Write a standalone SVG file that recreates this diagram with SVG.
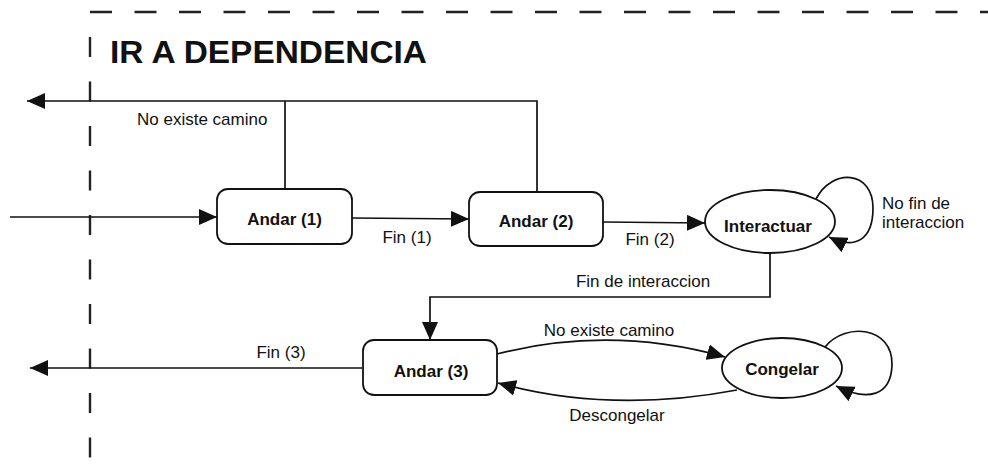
<svg xmlns="http://www.w3.org/2000/svg" width="988" height="470" viewBox="0 0 988 470">
<style>
.ln{fill:none;stroke:#111;stroke-width:1.7}
.box{fill:#fff;stroke:#111;stroke-width:1.8}
.dash{fill:none;stroke:#222;stroke-width:2.4}
.b{font-family:"Liberation Sans",Arial,sans-serif;font-weight:bold;font-size:17px;fill:#111;text-anchor:middle}
.r{font-family:"Liberation Sans",Arial,sans-serif;font-size:17px;fill:#111}
.t{font-family:"Liberation Sans",Arial,sans-serif;font-weight:bold;font-size:31px;fill:#111}
</style>
<defs>
<marker id="ah" markerUnits="userSpaceOnUse" markerWidth="18" markerHeight="16" refX="18" refY="8" orient="auto">
<path d="M0,0 L18,8 L0,16 z" fill="#111"/>
</marker>
</defs>
<rect width="988" height="470" fill="#fff"/>
<g id="frame">
<line class="dash" x1="90" y1="12" x2="988" y2="12" stroke-dasharray="22 22.5"/>
<line class="dash" x1="90" y1="37" x2="90" y2="460" stroke-dasharray="20 24.5"/>
<text class="t" x="110" y="63" textLength="317" lengthAdjust="spacingAndGlyphs">IR A DEPENDENCIA</text>
</g>
<g id="connectors">
<polyline class="ln" points="537,192 537,101 27,101" marker-end="url(#ah)"/>
<line class="ln" x1="285" y1="101" x2="285" y2="189"/>
<text class="r" x="137" y="125">No existe camino</text>
<line class="ln" x1="10" y1="217" x2="217" y2="217" marker-end="url(#ah)"/>
<line class="ln" x1="352" y1="218" x2="469" y2="219" marker-end="url(#ah)"/>
<text class="r" x="407" y="243" text-anchor="middle">Fin (1)</text>
<line class="ln" x1="603" y1="222" x2="705" y2="223" marker-end="url(#ah)"/>
<text class="r" x="650" y="245" text-anchor="middle">Fin (2)</text>
<path class="ln" d="M816 199 C832 168, 873 170, 873 208 C873 240, 855 250, 829 237" marker-end="url(#ah)"/>
<text class="r" x="882" y="209">No fin de</text>
<text class="r" x="882" y="228">interaccion</text>
<polyline class="ln" points="770,253 770,297 430,297 430,340" marker-end="url(#ah)"/>
<text class="r" x="643" y="287" text-anchor="middle">Fin de interaccion</text>
<line class="ln" x1="363" y1="368" x2="30" y2="368" marker-end="url(#ah)"/>
<text class="r" x="281" y="358" text-anchor="middle">Fin (3)</text>
<path class="ln" d="M497 354 Q610 325 725 357" marker-end="url(#ah)"/>
<text class="r" x="609" y="336" text-anchor="middle">No existe camino</text>
<path class="ln" d="M737 390 Q610 414 498 383" marker-end="url(#ah)"/>
<text class="r" x="617" y="421" text-anchor="middle">Descongelar</text>
<path class="ln" d="M825 347 C845 322, 893 326, 892 365 C891 396, 868 402, 836 386" marker-end="url(#ah)"/>
</g>
<g id="andar1">
<rect class="box" x="217" y="189" width="135" height="55" rx="11"/>
<text class="b" x="284.5" y="225">Andar (1)</text>
</g>
<g id="andar2">
<rect class="box" x="469" y="192" width="134" height="54" rx="11"/>
<text class="b" x="536" y="227">Andar (2)</text>
</g>
<g id="interactuar">
<ellipse class="box" cx="770" cy="221.5" rx="65" ry="31.5"/>
<text class="b" x="768" y="232">Interactuar</text>
</g>
<g id="andar3">
<rect class="box" x="363" y="340" width="134" height="55" rx="11"/>
<text class="b" x="431" y="377">Andar (3)</text>
</g>
<g id="congelar">
<ellipse class="box" cx="782" cy="368" rx="60" ry="30"/>
<text class="b" x="782" y="375">Congelar</text>
</g>
</svg>
